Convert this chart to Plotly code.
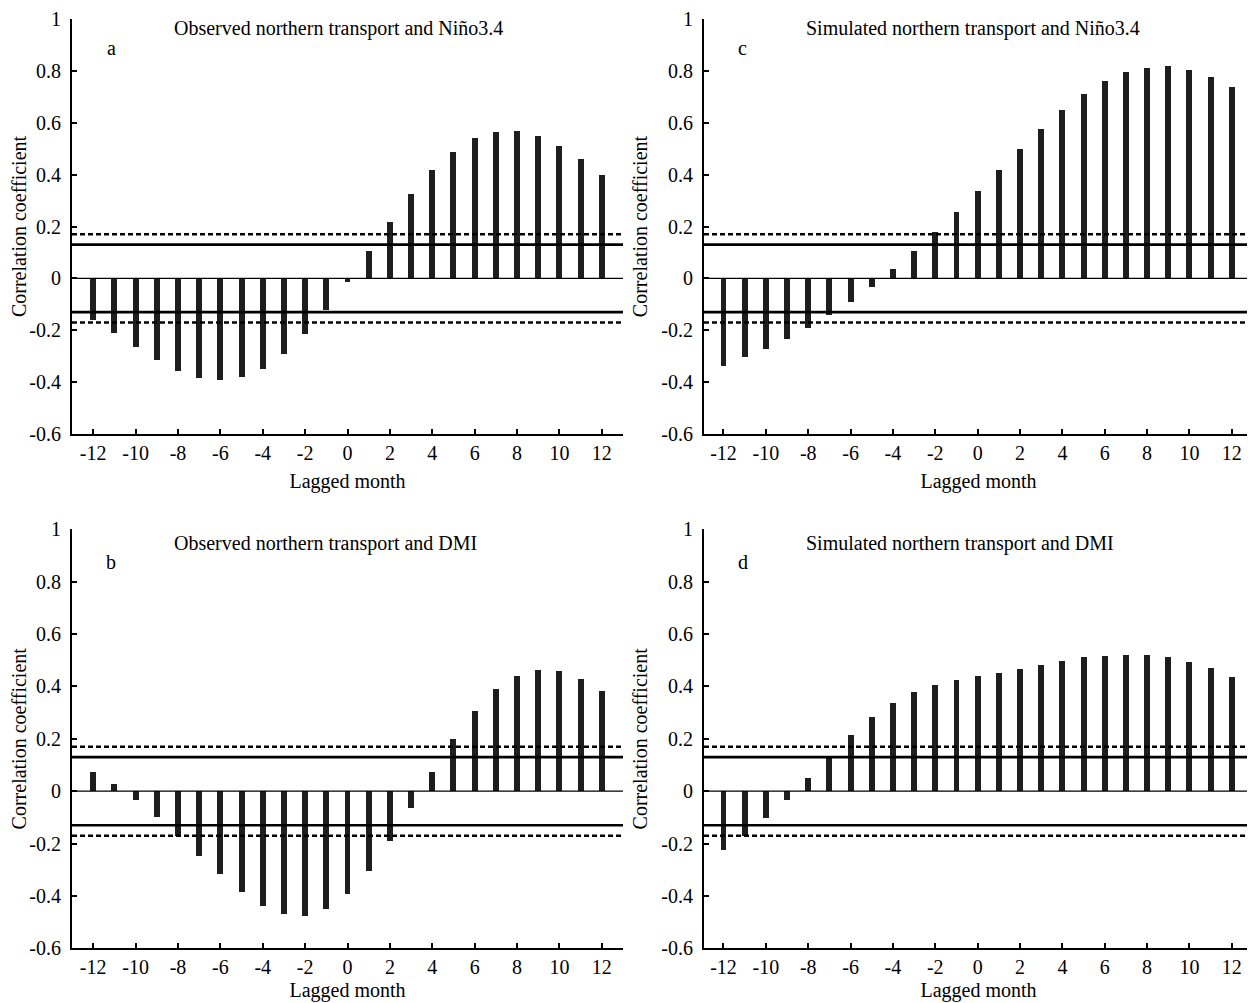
import plotly.graph_objects as go

lags = list(range(-12, 13))

obs_nino = [-0.16, -0.21, -0.265, -0.315, -0.356, -0.384, -0.391, -0.381, -0.348, -0.292,
            -0.216, -0.121, -0.015, 0.105, 0.219, 0.324, 0.417, 0.489, 0.540, 0.565,
            0.569, 0.549, 0.51, 0.46, 0.40]
sim_nino = [-0.337, -0.305, -0.273, -0.233, -0.19, -0.14, -0.091, -0.032, 0.036, 0.104,
            0.178, 0.254, 0.335, 0.419, 0.498, 0.576, 0.648, 0.709, 0.760, 0.794,
            0.813, 0.817, 0.804, 0.778, 0.737]
obs_dmi = [0.072, 0.028, -0.033, -0.099, -0.173, -0.248, -0.319, -0.386, -0.438, -0.471,
           -0.478, -0.452, -0.395, -0.305, -0.19, -0.064, 0.072, 0.199, 0.305, 0.388,
           0.44, 0.461, 0.457, 0.428, 0.382]
sim_dmi = [-0.226, -0.173, -0.105, -0.033, 0.051, 0.127, 0.212, 0.281, 0.337, 0.377,
           0.405, 0.424, 0.437, 0.45, 0.464, 0.48, 0.496, 0.51, 0.516, 0.52,
           0.517, 0.511, 0.494, 0.471, 0.435]

panel_titles = ["Observed northern transport and Niño3.4",
                "Simulated northern transport and Niño3.4",
                "Observed northern transport and DMI",
                "Simulated northern transport and DMI"]
panel_letters = ["a", "c", "b", "d"]
series = [obs_nino, sim_nino, obs_dmi, sim_dmi]

sig_solid = 0.13
sig_dot = 0.17

xtick_vals = list(range(-12, 13, 2))
xtick_text = [str(v) for v in xtick_vals]
ytick_vals = [-0.6, -0.4, -0.2, 0, 0.2, 0.4, 0.6, 0.8, 1]
ytick_text = ["-0.6", "-0.4", "-0.2", "0", "0.2", "0.4", "0.6", "0.8", "1"]

FONT = "Liberation Serif"
FS = 20
OFF = 8  # default page body margin
W, H = 1255 - OFF, 1003 - OFF


def xd(p0, p1):
    return [(p0 - OFF) / W, (p1 - OFF) / W]


def yd(top, bottom):
    return [1 - (bottom - OFF) / H, 1 - (top - OFF) / H]


TOP0, BOT0 = 19, 434
TOP1, BOT1 = 529.3, 948.3
xdoms = [xd(72, 623), xd(704, 1253), xd(72, 623), xd(704, 1253)]
ydoms = [yd(TOP0, BOT0), yd(TOP0, BOT0), yd(TOP1, BOT1), yd(TOP1, BOT1)]
heights = [BOT0 - TOP0, BOT0 - TOP0, BOT1 - TOP1, BOT1 - TOP1]
tops = [TOP0, TOP0, TOP1, TOP1]
title_y = [29, 29, 543.3, 543.3]
letter_y = [48, 48, 561.7, 561.7]
xtitle_standoff = [11, 11, 6, 6]
xranges = [[-13, 13], [-12.92, 13], [-13, 13], [-12.92, 13]]

fig = go.Figure()
layout = dict(width=W, height=H, margin=dict(l=0, r=0, t=0, b=0, autoexpand=False),
              template="none",
              paper_bgcolor="white", plot_bgcolor="white", showlegend=False,
              font=dict(family=FONT, size=FS, color="black"), bargap=0)
shapes = []
annotations = []

for i in range(4):
    sfx = "" if i == 0 else str(i + 1)
    xa, ya = "x" + sfx, "y" + sfx
    fig.add_trace(go.Bar(x=lags, y=series[i], width=0.28, xaxis=xa, yaxis=ya,
                         marker=dict(color="#1e1e1e", line=dict(width=0)),
                         hoverinfo="x+y"))
    layout["xaxis" + sfx] = dict(domain=xdoms[i], range=xranges[i], anchor=ya,
                                 automargin=False, ticklabeloverflow="allow",
                                 showgrid=False, zeroline=False, showline=True,
                                 linecolor="black", linewidth=2, ticks="inside",
                                 ticklen=5, tickwidth=2, tickcolor="black",
                                 tickmode="array", tickvals=xtick_vals, ticktext=xtick_text,
                                 tickfont=dict(family=FONT, size=FS),
                                 title=dict(text="Lagged month", standoff=xtitle_standoff[i],
                                            font=dict(family=FONT, size=FS)))
    layout["yaxis" + sfx] = dict(domain=ydoms[i], range=[-0.6, 1], anchor=xa,
                                 automargin=False, ticklabeloverflow="allow",
                                 showgrid=False, zeroline=False, showline=True,
                                 linecolor="black", linewidth=2, ticks="inside",
                                 ticklen=5, tickwidth=2, tickcolor="black",
                                 ticklabelstandoff=5,
                                 tickmode="array", tickvals=ytick_vals, ticktext=ytick_text,
                                 tickfont=dict(family=FONT, size=FS),
                                 title=dict(text="Correlation coefficient", standoff=8,
                                            font=dict(family=FONT, size=FS)))
    xdom = xa + " domain"
    shapes.append(dict(type="line", xref=xdom, yref=ya, x0=0, x1=1, y0=0, y1=0,
                       line=dict(color="black", width=1.2)))
    for v in (sig_solid, -sig_solid):
        shapes.append(dict(type="line", xref=xdom, yref=ya, x0=0, x1=1, y0=v, y1=v,
                           line=dict(color="black", width=2.6)))
    for v in (sig_dot, -sig_dot):
        shapes.append(dict(type="line", xref=xdom, yref=ya, x0=0, x1=1, y0=v, y1=v,
                           line=dict(color="black", width=2.5, dash="5px,3px")))
    h = heights[i]
    annotations.append(dict(text=panel_titles[i], xref=xdom, yref=ya + " domain",
                            x=100 / 551, y=1 - (title_y[i] - tops[i]) / h,
                            xanchor="left", yanchor="middle",
                            showarrow=False, font=dict(family=FONT, size=FS, color="black")))
    annotations.append(dict(text=panel_letters[i], xref=xdom, yref=ya + " domain",
                            x=39 / 551, y=1 - (letter_y[i] - tops[i]) / h,
                            xanchor="center", yanchor="middle",
                            showarrow=False, font=dict(family=FONT, size=FS, color="black")))

layout["shapes"] = shapes
layout["annotations"] = annotations
fig.update_layout(**layout)
fig.write_html("out.html")
